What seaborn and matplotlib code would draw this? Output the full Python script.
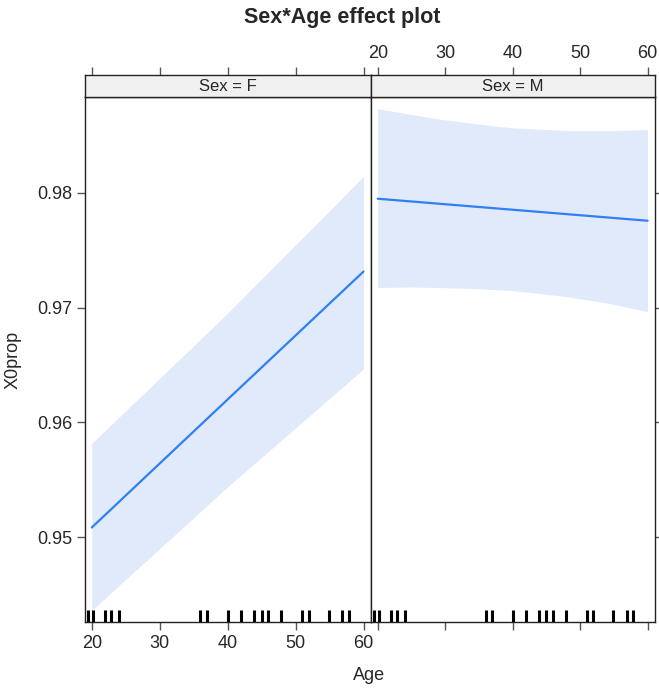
import matplotlib
matplotlib.use("Agg")
import matplotlib.pyplot as plt
import seaborn as sns
import pandas as pd
import numpy as np

sns.set_style("white")
plt.rcParams['font.family'] = ['Liberation Sans', 'DejaVu Sans']

# ---- data ----
panels = ["F", "M"]
fit_ages_F = [20, 40, 60]
fit_F = [0.95083, 0.96200, 0.97315]
band_ages_F = [20, 40, 60]
lower_F = [0.94361, 0.95438, 0.96466]
upper_F = [0.95817, 0.96952, 0.98145]

fit_ages_M = [20, 60]
fit_M = [0.97950, 0.97758]
band_ages_M = [20, 25, 29, 35, 40, 48, 54, 60]
lower_M = [0.97176, 0.97180, 0.97176, 0.97165, 0.97149, 0.97097, 0.97040, 0.96966]
upper_M = [0.98736, 0.98684, 0.98645, 0.98600, 0.98568, 0.98544, 0.98542, 0.98553]

rug_ages = [19.4, 20.2, 22, 22.9, 24, 36, 37, 40, 42, 43.9, 45, 46, 47.9,
            51, 51.9, 54.9, 56.9, 57.9]

x_ticks = [20, 30, 40, 50, 60]
y_ticks = [0.95, 0.96, 0.97, 0.98]
y_tick_labels = ["0.95", "0.96", "0.97", "0.98"]

LINE = "#2f7ff5"
BAND = "#e1eafb"
TICKC = "#555555"
FS = 13

W, H = 659, 688
fig = plt.figure(figsize=(W / 100, H / 100), dpi=100)

def fx(px):
    return px / W

def fy(py):
    return 1 - py / H

p_top, p_bot = 97, 622
s_top = 75
lefts = [85, 371]
rights = [371, 655]
xlim = (19.0, 61.1)
ylim = (0.94259, 0.98837)

data = {
    "F": (fit_ages_F, fit_F, band_ages_F, lower_F, upper_F),
    "M": (fit_ages_M, fit_M, band_ages_M, lower_M, upper_M),
}

for i, sex in enumerate(panels):
    l, r = lefts[i], rights[i]
    ax = fig.add_axes([fx(l), fy(p_bot), fx(r) - fx(l), fy(p_top) - fy(p_bot)])
    fa, fv, ba, lo, up = data[sex]
    ax.fill_between(ba, lo, up, color=BAND, lw=0, zorder=1)
    df = pd.DataFrame({"Age": fa, "X0prop": fv})
    sns.lineplot(data=df, x="Age", y="X0prop", ax=ax, color=LINE, lw=1.6, zorder=3)
    sns.rugplot(x=rug_ages, ax=ax, height=0.022, color="black", linewidth=2.2,
                zorder=4)
    ax.set_xlim(*xlim)
    ax.set_ylim(*ylim)
    ax.set_xlabel("")
    ax.set_ylabel("")
    for s in ax.spines.values():
        s.set_color("#222222")
        s.set_linewidth(1.0)
        s.set_visible(True)
    ax.set_xticks(x_ticks)
    ax.set_yticks(y_ticks)
    ax.tick_params(axis="both", direction="out", length=6, width=1, color=TICKC,
                   labelsize=FS, pad=3)
    ax.tick_params(axis="both", which="both", top=False)
    if i == 0:
        ax.set_yticklabels(y_tick_labels)
        ax.tick_params(axis="y", left=True, right=False, labelleft=True)
        ax.tick_params(axis="x", bottom=True, labelbottom=True)
    else:
        ax.tick_params(axis="y", left=False, right=True, labelleft=False, labelright=False)
        ax.tick_params(axis="x", bottom=True, labelbottom=False)
    ax.grid(False)

    # strip
    sax = fig.add_axes([fx(l), fy(p_top), fx(r) - fx(l), fy(s_top) - fy(p_top)])
    sax.set_facecolor("#f0f0f0")
    sax.set_xlim(*xlim)
    sax.set_ylim(0, 1)
    sax.set_yticks([])
    sax.set_xticks(x_ticks)
    sax.tick_params(axis="x", bottom=False, labelbottom=False, top=True,
                    labeltop=(i == 1), direction="out", length=6, width=1,
                    color=TICKC, labelsize=FS, pad=3)
    for s in sax.spines.values():
        s.set_color("#222222")
        s.set_linewidth(1.0)
        s.set_visible(True)
    sax.text(0.5, 0.47, f"Sex = {sex}", transform=sax.transAxes,
             ha="center", va="center", fontsize=12)

fig.text(fx(342), fy(17), "Sex*Age effect plot", ha="center", va="center",
         fontsize=15.5, fontweight="bold")
fig.text(fx(369), fy(675), "Age", ha="center", va="center", fontsize=FS)
fig.text(fx(13), fy(360), "X0prop", ha="center", va="center", fontsize=FS,
         rotation=90)

fig.savefig("out.png", dpi=100)
